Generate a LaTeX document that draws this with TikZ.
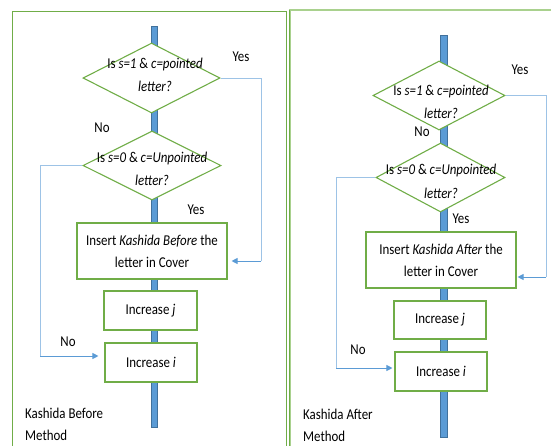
\documentclass[tikz,border=0pt]{standalone}
\usepackage{fontspec}
\setmainfont[FakeStretch=0.86]{Carlito}
\usetikzlibrary{shapes.geometric,arrows.meta}
\definecolor{boxgreen}{RGB}{112,173,71}
\definecolor{panelgreen}{RGB}{112,173,71}
\definecolor{panellight}{RGB}{169,209,142}
\definecolor{barblue}{RGB}{91,155,213}
\definecolor{bardark}{RGB}{65,113,156}
\definecolor{linkblue}{RGB}{157,195,230}
\definecolor{arrowblue}{RGB}{91,155,213}
\tikzset{
  dia/.style={diamond,draw=boxgreen,line width=1.1pt,fill=white,inner sep=0pt},
  dtext/.style={align=center,font=\fontsize{15}{23.5}\selectfont,inner sep=0pt},
  pbox/.style={rectangle,draw=boxgreen,line width=1.1pt,fill=white,inner sep=0pt,align=center,font=\fontsize{15}{22}\selectfont},
  lbl/.style={font=\fontsize{15}{16}\selectfont,inner sep=0pt},
  captext/.style={font=\fontsize{15}{22}\selectfont,align=left,inner sep=0pt,anchor=west},
  bar/.style={fill=barblue,draw=bardark,line width=0.6pt},
  link/.style={draw=linkblue,line width=1pt},
  linkarrow/.style={draw=arrowblue,line width=1pt,-{Triangle[length=6pt,width=6pt]}},
}
\begin{document}
\begin{tikzpicture}[x=1pt,y=-1pt]
\useasboundingbox (0,0) rectangle (551,445);
% panels
\draw[draw=panelgreen,line width=1pt] (12,460) -- (12,11) -- (286,11) -- (286,460);
\draw[draw=panellight,line width=2pt] (290,460) -- (290,10) -- (560,10);
\draw[draw=panelgreen,line width=0.8pt] (289,460) -- (289,9.5);
% bars
\draw[bar] (151,26) rectangle (157,427);
\draw[bar] (440.5,35) rectangle (447,437);

% ---- left flowchart ----
\node[dia,minimum width=137pt,minimum height=70pt] (L1) at (151.5,78) {};
\node[dtext] (L1t) at (155,75) {Is \textit{s=1} \& \textit{c=pointed}\\\textit{letter?}};
\node[dia,minimum width=138pt,minimum height=69pt] (L2) at (152,165.5) {};
\node[dtext] (L2t) at (152,169) {Is \textit{s=0} \& \textit{c=Unpointed}\\\textit{letter?}};
\node[pbox,minimum width=150pt,minimum height=56pt] (LB1) at (152,251) {Insert \textit{Kashida Before} the\\letter in Cover};
\node[pbox,minimum width=93pt,minimum height=39pt] (LB2) at (150.5,310.5) {Increase \textit{j}};
\node[pbox,minimum width=92pt,minimum height=39pt] (LB3) at (151,362.5) {Increase \textit{i}};
\coordinate (LY1) at (261,78);
\coordinate (LY2) at (261,261);
\coordinate (LN1) at (40,165.5);
\coordinate (LN2) at (40,356);
\draw[link] (L1.east) -- (LY1) -- (LY2);
\draw[linkarrow,shorten >=4pt] (LY2) -- (LB1.east |- LY2);
\draw[link] (L2.west) -- (LN1) -- (LN2);
\draw[linkarrow,shorten >=6pt] (LN2) -- (LB3.west |- LN2);
\node[lbl] (LYes1) at (241,57) {Yes};
\node[lbl] (LNo1) at (102,128) {No};
\node[lbl] (LYes2) at (196,210) {Yes};
\node[lbl] (LNo2) at (68,342) {No};
\node[captext] (LCap) at (25,424) {Kashida Before\\Method};

% ---- right flowchart ----
\node[dia,minimum width=132pt,minimum height=69pt] (R1) at (439,95.5) {};
\node[dtext] (R1t) at (441,102) {Is \textit{s=1} \& \textit{c=pointed}\\\textit{letter?}};
\node[dia,minimum width=129pt,minimum height=69pt] (R2) at (440.5,177.5) {};
\node[dtext] (R2t) at (441,181.5) {Is \textit{s=0} \& \textit{c=Unpointed}\\\textit{letter?}};
\node[pbox,minimum width=150pt,minimum height=56pt] (RB1) at (441,260) {Insert \textit{Kashida After} the\\letter in Cover};
\node[pbox,minimum width=92pt,minimum height=38pt] (RB2) at (440,320) {Increase \textit{j}};
\node[pbox,minimum width=92pt,minimum height=39pt] (RB3) at (441,371.5) {Increase \textit{i}};
\coordinate (RY1) at (546,95.5);
\coordinate (RY2) at (546,277);
\coordinate (RN1) at (336,177.5);
\coordinate (RN2) at (336,368);
\draw[link] (R1.east) -- (RY1) -- (RY2);
\draw[linkarrow,shorten >=1pt] (RY2) -- (RB1.east |- RY2);
\draw[link] (R2.west) -- (RN1) -- (RN2);
\draw[linkarrow,shorten >=2pt] (RN2) -- (RB3.west |- RN2);
\node[lbl] (RYes1) at (520,70) {Yes};
\node[lbl] (RNo1) at (422,132) {No};
\node[lbl] (RYes2) at (461,219) {Yes};
\node[lbl] (RNo2) at (358,350) {No};
\node[captext] (RCap) at (303,425) {Kashida After\\Method};
\end{tikzpicture}
\end{document}
